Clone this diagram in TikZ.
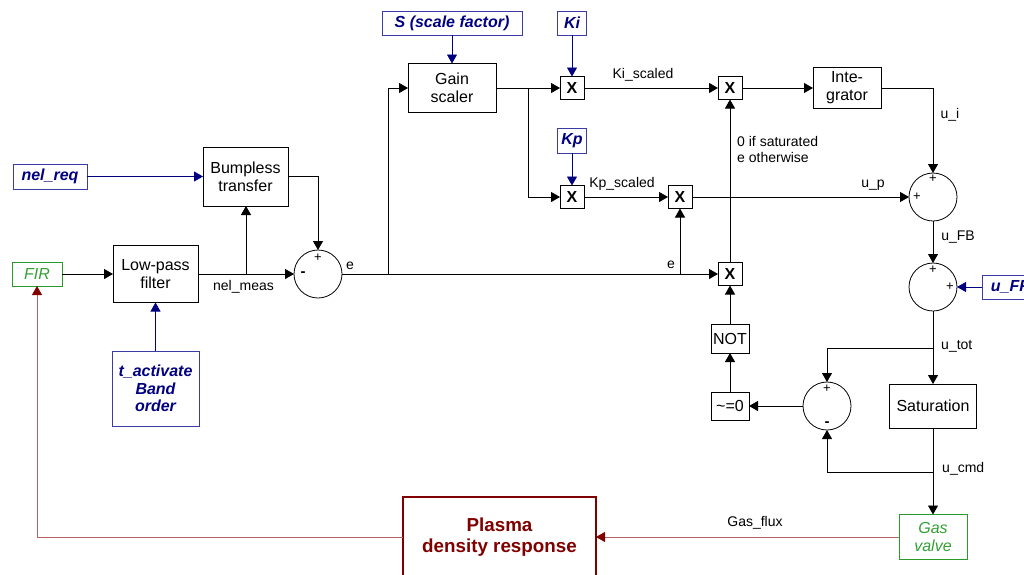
\documentclass[tikz,border=0pt]{standalone}
\usepackage{fontspec}
\setmainfont{Liberation Sans}
\usetikzlibrary{arrows.meta}
\definecolor{navy}{HTML}{000080}
\definecolor{bluebox}{HTML}{3B3BA6}
\definecolor{grn}{HTML}{2A9A2A}
\definecolor{grntxt}{HTML}{33A033}
\definecolor{dred}{HTML}{800000}
\definecolor{lred}{HTML}{B46464}
\tikzset{
  blk/.style={draw=black, line width=0.8pt, align=center, inner sep=0pt, outer sep=0pt, font=\fontsize{16}{17.7}\selectfont},
  mult/.style={draw=black, line width=0.8pt, inner sep=0pt, outer sep=0pt, minimum width=24pt, minimum height=23pt, font=\fontsize{16}{18}\selectfont\bfseries},
  param/.style={draw=bluebox, line width=0.8pt, align=center, inner sep=0pt, outer sep=0pt, text=navy, font=\fontsize{16}{17.5}\selectfont\bfseries\itshape},
  io/.style={draw=grn, line width=0.8pt, align=center, inner sep=0pt, outer sep=0pt, text=grntxt, font=\fontsize{16}{17.7}\selectfont\itshape},
  sumc/.style={draw=black, line width=0.8pt, circle, inner sep=0pt, outer sep=0pt, minimum size=48pt},
  sgn/.style={inner sep=0pt, font=\fontsize{13}{13}\selectfont},
  lbl/.style={inner sep=0pt, font=\fontsize{14}{16}\selectfont, align=left},
  arr/.style={draw=black, line width=0.8pt, -{Triangle[length=9pt,width=10pt]}},
  barr/.style={draw=navy, line width=0.8pt, -{Triangle[length=9pt,width=10pt,color=navy]}},
  rarr/.style={draw=lred, line width=0.8pt, -{Triangle[length=9pt,width=10pt,color=dred]}},
  ln/.style={draw=black, line width=0.8pt}
}
\begin{document}
\begin{tikzpicture}[x=1pt,y=-1pt]
\useasboundingbox (0,0) rectangle (1024,574);
% blocks
\node[param, minimum width=74pt, minimum height=25pt] (nelreq) at (50,176.5) {nel\_req};
\node[blk, minimum width=85pt, minimum height=59pt] (bump) at (245.5,176.5) {Bumpless\\transfer};
\node[io, minimum width=50pt, minimum height=24pt] (fir) at (37,274) {FIR};
\node[blk, minimum width=85pt, minimum height=57pt] (lpf) at (155.5,274) {Low-pass\\filter};
\node[param, minimum width=87pt, minimum height=75pt] (tact) at (155.5,388.5) {t\_activate\\Band\\order};
\node[sumc] (sum1) at (318,274) {};
\node[param, minimum width=140pt, minimum height=24pt] (S) at (452,23) {S (scale factor)};
\node[blk, minimum width=88pt, minimum height=49pt] (gain) at (452,88) {Gain\\scaler};
\node[param, minimum width=29pt, minimum height=24pt] (Ki) at (572,23) {Ki};
\node[param, minimum width=29pt, minimum height=25pt] (Kp) at (572,140.5) {Kp};
\node[mult] (x1) at (572,88) {X};
\node[mult] (x2) at (572,197) {X};
\node[mult] (x3) at (730,88) {X};
\node[mult] (x4) at (680,197) {X};
\node[mult] (x5) at (730,274) {X};
\node[blk, minimum width=68pt, minimum height=41pt] (integ) at (847,88) {Inte-\\grator};
\node[sumc] (sum2) at (933,197) {};
\node[sumc] (sum3) at (933,287) {};
\node[param, minimum width=56pt, minimum height=24pt] (uff) at (1010,287) {u\_FF};
\node[blk, minimum width=38pt, minimum height=29pt] (not) at (730,338.5) {NOT};
\node[blk, minimum width=38pt, minimum height=28pt] (neq) at (730,406) {\textasciitilde=0};
\node[sumc] (sum4) at (827,406) {};
\node[blk, minimum width=87pt, minimum height=44pt] (sat) at (933,406) {Saturation};
\node[io, minimum width=68pt, minimum height=45pt] (gas) at (933,537) {Gas\\valve};
\node[draw=dred, line width=2pt, align=center, inner sep=0pt, outer sep=0pt, text=dred,
      minimum width=193pt, minimum height=80pt, font=\fontsize{18.8}{21}\selectfont\bfseries] (plasma) at (499.5,537) {Plasma\\density response};
% signs
\node[sgn] (s1a) at (318,258) {+};
\node[sgn, font=\fontsize{15}{15}\selectfont\bfseries] (s1b) at (303,274) {-};
\node[sgn] (s2a) at (933,179) {+};
\node[sgn] (s2b) at (917,197) {+};
\node[sgn] (s3a) at (933,270) {+};
\node[sgn] (s3b) at (950,287) {+};
\node[sgn] (s4a) at (827,389) {+};
\node[sgn, font=\fontsize{15}{15}\selectfont\bfseries] (s4b) at (827,424) {-};
% junctions
\coordinate (jm) at (246,274);
\coordinate (jg) at (388,274);
\coordinate (je) at (680,274);
\coordinate (jk) at (528,88);
\coordinate (jt) at (933,348);
\coordinate (jc) at (933,472);
% connectors
\draw[barr] (nelreq) -- (bump);
\draw[arr] (bump.east) -| (sum1.north);
\draw[arr] (fir) -- (lpf);
\draw[arr] (lpf) -- (sum1);
\draw[arr] (jm) -- (jm |- bump.south);
\draw[barr] (tact) -- (lpf);
\draw[arr] (sum1) -- (x5);
\draw[arr] (jg) |- (gain.west);
\draw[arr] (je) -- (x4.south);
\draw[barr] (S) -- (gain);
\draw[arr] (gain) -- (x1);
\draw[arr] (jk) |- (x2.west);
\draw[barr] (Ki) -- (x1);
\draw[barr] (Kp) -- (x2);
\draw[arr] (x1) -- (x3);
\draw[arr] (x2) -- (x4);
\draw[arr] (x3) -- (integ);
\draw[arr] (x5) -- (x3);
\draw[arr] (integ.east) -| (sum2.north);
\draw[arr] (x4) -- (sum2);
\draw[arr] (sum2) -- (sum3);
\draw[barr] (uff) -- (sum3);
\draw[arr] (sum3) -- (sat);
\draw[arr] (jt) -| (sum4.north);
\draw[arr] (sat) -- (gas);
\draw[arr] (jc) -| (sum4.south);
\draw[arr] (sum4) -- (neq);
\draw[arr] (neq) -- (not);
\draw[arr] (not) -- (x5);
\draw[rarr] (gas) -- (plasma);
\draw[rarr] (plasma.west) -| (fir.south);
% labels
\node[lbl] (lnm) at (243.5,287) {nel\_meas};
\node[lbl] (le1) at (350,266) {e};
\node[lbl] (lki) at (643,75) {Ki\_scaled};
\node[lbl] (lkp) at (622,184) {Kp\_scaled};
\node[lbl] (le2) at (671,265) {e};
\node[lbl, anchor=west] (lsat) at (737,149) {0 if saturated\\e otherwise};
\node[lbl] (lui) at (950,115) {u\_i};
\node[lbl] (lup) at (873,185) {u\_p};
\node[lbl] (lfb) at (958,237) {u\_FB};
\node[lbl, anchor=west] (ltot) at (941,346) {u\_tot};
\node[lbl, anchor=west] (lcmd) at (942,469) {u\_cmd};
\node[lbl] (lgf) at (755,523) {Gas\_flux};
\end{tikzpicture}
\end{document}
